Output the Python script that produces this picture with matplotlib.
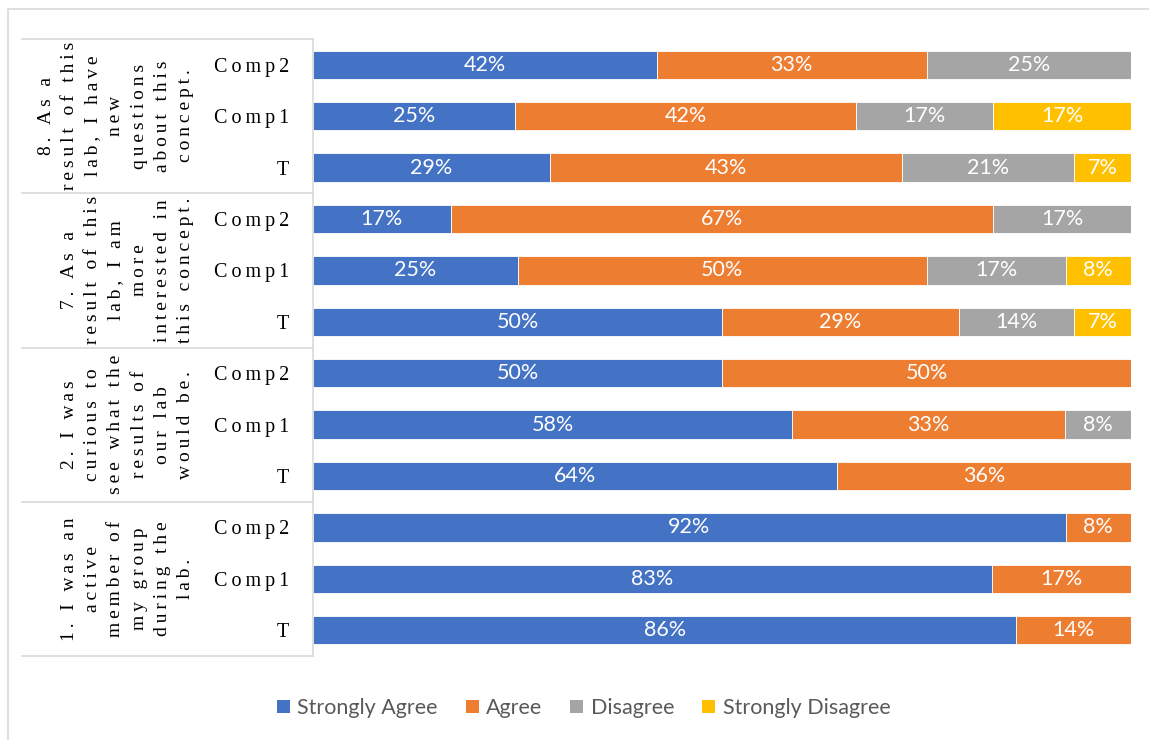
import numpy as np
import matplotlib.pyplot as plt
from matplotlib.patches import Patch, Rectangle

# rows from top to bottom
questions = [
    "8. As a\nresult of this\nlab, I have\nnew\nquestions\nabout this\nconcept.",
    "7. As a\nresult of this\nlab, I am\nmore\ninterested in\nthis concept.",
    "2. I was\ncurious to\nsee what the\nresults of\nour lab\nwould be.",
    "1. I was an\nactive\nmember of\nmy group\nduring the\nlab.",
]
groups = ["Comp2", "Comp1", "T"]

strongly_agree = [42, 25, 29, 17, 25, 50, 50, 58, 64, 92, 83, 86]
agree = [33, 42, 43, 67, 50, 29, 50, 33, 36, 8, 17, 14]
disagree = [25, 17, 21, 17, 17, 14, 0, 8, 0, 0, 0, 0]
strongly_disagree = [0, 17, 7, 0, 8, 7, 0, 0, 0, 0, 0, 0]

series = ["Strongly Agree", "Agree", "Disagree", "Strongly Disagree"]
colors = ["#4472C4", "#ED7D31", "#A5A5A5", "#FFC000"]

serif = ["Liberation Serif", "DejaVu Serif"]


def spaced(s):
    # imitate the wide letter spacing of the original
    return "\n".join("\u2009".join(line) for line in s.split("\n"))


W, H = 1149, 740
fig = plt.figure(figsize=(W / 100, H / 100), dpi=100)
fig.patches.append(Rectangle((7.5 / W, -0.1), 1.2, 1.1 - 9.5 / H, transform=fig.transFigure,
                             fill=False, edgecolor="#D9D9D9", linewidth=1.2))

ax = fig.add_axes([313 / W, 1 - 656 / H, 818 / W, 617 / H])

data = np.array([strongly_agree, agree, disagree, strongly_disagree], dtype=float)
totals = data.sum(axis=0)
share = data / totals * 100
y = np.arange(len(strongly_agree))

left = np.zeros(len(y))
for i in range(len(series)):
    ax.barh(y, share[i], left=left, height=0.55, color=colors[i], edgecolor="white",
            linewidth=0.6, label=series[i])
    for j in range(len(y)):
        if data[i, j] > 0:
            ax.text(left[j] + share[i, j] / 2, y[j], f"{int(data[i, j])}%", ha="center", va="center",
                    color="white", fontsize=15.5, family="Lato")
    left += share[i]

ax.set_xlim(0, 100)
ax.set_ylim(11.5, -0.5)
ax.set_xticks([])
ax.set_yticks(y)
ax.set_yticklabels([spaced(groups[k % 3]) for k in range(len(y))], family=serif, fontsize=14.5)
ax.tick_params(axis="y", length=0, pad=17)
for s in ["top", "right", "bottom"]:
    ax.spines[s].set_visible(False)
ax.spines["left"].set_color("#D9D9D9")
ax.spines["left"].set_linewidth(1.2)

# multi-level category axis
trans = ax.get_yaxis_transform()
for b in [-0.5, 2.5, 5.5, 8.5, 11.5]:
    ax.plot([(22 - 313) / 818, 0], [b, b], color="#D9D9D9", linewidth=1.2, transform=trans,
            clip_on=False)
for q, text in enumerate(questions):
    ax.text((194 - 313) / 818, 3 * q + 1, spaced(text), rotation=90, ha="right", va="center",
            multialignment="center", family=serif, fontsize=14, linespacing=1.48,
            transform=trans)

handles = [Patch(facecolor=c) for c in colors]
fig.legend(handles, series, loc="center", bbox_to_anchor=(0.508, 1 - 708 / H), ncol=4,
           frameon=False, handlelength=0.6, handleheight=0.6, handletextpad=0.35,
           columnspacing=1.3, prop={"family": "Lato", "size": 15.5}, labelcolor="#595959")

fig.savefig("out.png", dpi=100)
